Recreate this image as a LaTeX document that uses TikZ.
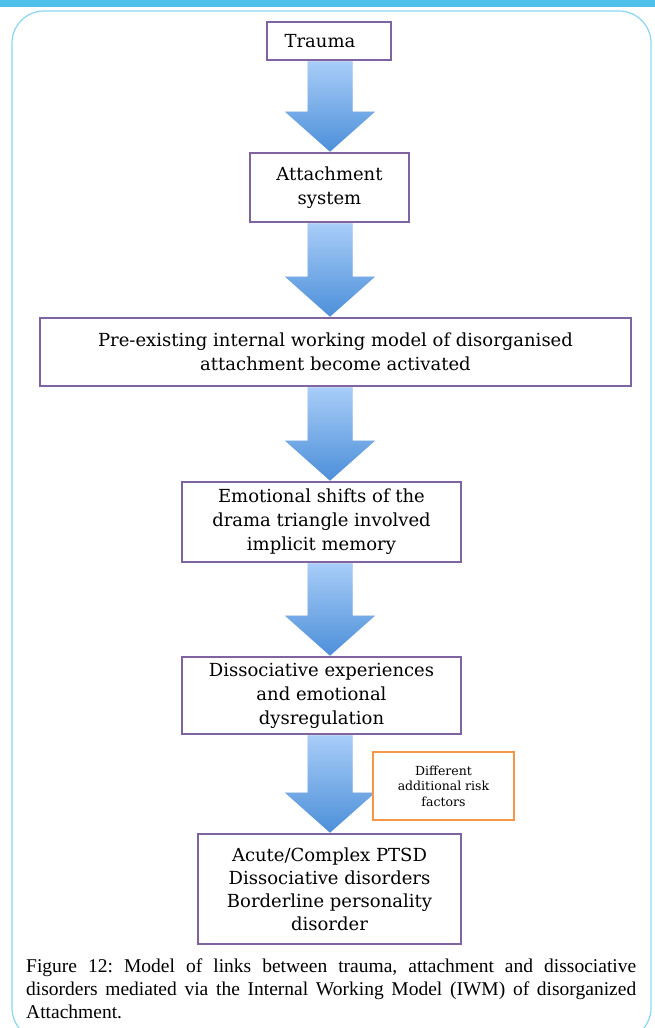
\documentclass[tikz,border=0pt]{standalone}
\usepackage{fontspec}
\setmainfont{Liberation Serif}
\newfontfamily\boxfont{DejaVu Serif}
\usetikzlibrary{calc}
\definecolor{cadre}{HTML}{8064A2}
\definecolor{orange}{HTML}{F79646}
\definecolor{bandeau}{HTML}{4EC0EA}
\definecolor{bord}{HTML}{8AD6F2}
\definecolor{bleuclair}{HTML}{A8CDF8}
\definecolor{bleufonce}{HTML}{4C8FD9}
\tikzset{
  etape/.style={draw=cadre, line width=2.6pt, fill=white, align=center, inner sep=0pt,
    font=\boxfont\fontsize{18}{24}\selectfont},
  risque/.style={draw=orange, line width=2.6pt, fill=white, align=center, inner sep=0pt,
    font=\boxfont\fontsize{12.5}{15.5}\selectfont}
}
% fleche bleue epaisse entre deux cadres
\newcommand{\grossefleche}[2]{%
  \path (#1.south -| axe) coordinate (s) (#2.north -| axe) coordinate (t) ;
  \fill[black!25, opacity=0.5, xshift=2pt, yshift=-2pt] ($(s)+(-22.5,0)$) -- ($(t)+(-22.5,-40)$) -- ($(t)+(-45,-40)$) -- (t) -- ($(t)+(45,-40)$) -- ($(t)+(22.5,-40)$) -- ($(s)+(22.5,0)$) -- cycle ;
  \shade[top color=bleuclair, bottom color=bleufonce] ($(s)+(-22.5,0)$) -- ($(t)+(-22.5,-40)$) -- ($(t)+(-45,-40)$) -- (t) -- ($(t)+(45,-40)$) -- ($(t)+(22.5,-40)$) -- ($(s)+(22.5,0)$) -- cycle ;
}
\begin{document}
\frenchspacing
\begin{tikzpicture}[x=1pt, y=-1pt]
\useasboundingbox (0,0) rectangle (655,1028) ;
\fill[bandeau] (0,0) rectangle (655,7) ;
\draw[bord, line width=1.2pt, rounded corners=32pt] (12,11) -- (12,1040) -- (651,1040) -- (651,11) -- cycle ;
\coordinate (axe) at (330,0) ;

\node[etape, minimum width=124pt, minimum height=38pt] (trauma) at (329,41) {Trauma\hspace*{18pt}} ;
\node[etape, minimum width=159pt, minimum height=69pt] (attach) at (329.5,187.5) {Attachment\\system} ;
\node[etape, minimum width=591pt, minimum height=68pt] (modele) at (335.5,352) {Pre-existing internal working model of disorganised\\attachment become activated} ;
\node[etape, minimum width=279pt, minimum height=80pt] (shifts) at (321.5,522) {Emotional shifts of the\\drama triangle involved\\implicit memory} ;
\node[etape, minimum width=279pt, minimum height=77pt] (dissoc) at (321.5,695.5) {Dissociative experiences\\and emotional\\dysregulation} ;
\node[etape, minimum width=263pt, minimum height=110pt, font=\boxfont\fontsize{18}{23}\selectfont] (troubles) at (329.5,889) {Acute/Complex PTSD\\Dissociative disorders\\Borderline personality\\disorder} ;

\grossefleche{trauma}{attach}
\grossefleche{attach}{modele}
\grossefleche{modele}{shifts}
\grossefleche{shifts}{dissoc}
\grossefleche{dissoc}{troubles}

\node[risque, minimum width=141pt, minimum height=68pt] (risque) at (443.5,786) {Different\\additional risk\\factors} ;

\node[text width=610pt, align=justify, inner sep=0pt, anchor=north west,
  font=\fontsize{19.5}{23}\selectfont] (legende) at (26,959) {Figure 12: Model of links between trauma, attachment and dissociative\linebreak disorders mediated via the Internal Working Model (IWM) of disorganized\linebreak Attachment.} ;
\end{tikzpicture}
\end{document}
